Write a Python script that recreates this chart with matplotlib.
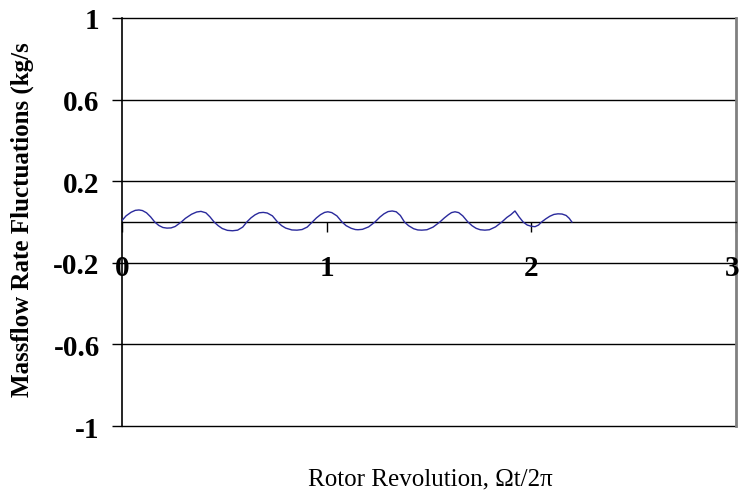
import matplotlib
matplotlib.use('Agg')
import matplotlib.pyplot as plt

# rotor revolution (Omega t / 2 pi) and massflow fluctuation (kg/s)
revolution = [0.00, 0.02, 0.045, 0.065, 0.083, 0.10, 0.12, 0.14, 0.16, 0.18, 0.20, 0.22,
              0.24, 0.26, 0.29, 0.31, 0.34, 0.365, 0.386, 0.41, 0.43, 0.45, 0.47, 0.49,
              0.515, 0.54, 0.565, 0.59, 0.61, 0.63, 0.65, 0.67, 0.69, 0.71, 0.735, 0.76,
              0.78, 0.80, 0.83, 0.855, 0.88, 0.905, 0.93, 0.95, 0.97, 0.99, 1.006, 1.025,
              1.05, 1.075, 1.095, 1.12, 1.14, 1.153, 1.175, 1.205, 1.236, 1.26, 1.28, 1.30,
              1.32, 1.34, 1.36, 1.38, 1.40, 1.425, 1.445, 1.465, 1.49, 1.52, 1.553, 1.575,
              1.595, 1.61, 1.627, 1.645, 1.665, 1.69, 1.71, 1.73, 1.75, 1.773, 1.795, 1.825,
              1.856, 1.88, 1.90, 1.92, 1.94, 1.96, 1.98, 2.00, 2.018, 2.035, 2.05, 2.07,
              2.09, 2.11, 2.13, 2.15, 2.17, 2.185, 2.198]
fluctuation = [0.007, 0.030, 0.048, 0.057, 0.059, 0.056, 0.045, 0.025, 0.0, -0.017, -0.027, -0.030,
               -0.029, -0.022, 0.0, 0.018, 0.038, 0.049, 0.052, 0.045, 0.025, 0.0, -0.018, -0.032,
               -0.041, -0.043, -0.040, -0.025, 0.0, 0.020, 0.035, 0.045, 0.047, 0.044, 0.030, 0.0,
               -0.018, -0.030, -0.039, -0.040, -0.037, -0.025, 0.0, 0.020, 0.036, 0.047, 0.050, 0.046,
               0.030, 0.0, -0.018, -0.031, -0.037, -0.038, -0.036, -0.024, 0.0, 0.024, 0.040, 0.051,
               0.054, 0.050, 0.032, 0.0, -0.018, -0.033, -0.039, -0.040, -0.038, -0.025, 0.0, 0.020,
               0.036, 0.046, 0.050, 0.046, 0.030, 0.0, -0.018, -0.031, -0.038, -0.040, -0.038, -0.024,
               0.0, 0.022, 0.036, 0.054, 0.025, 0.0, -0.015, -0.021, -0.023, -0.015, 0.0, 0.015,
               0.028, 0.037, 0.040, 0.039, 0.032, 0.018, 0.0]

x_ticks = [0, 1, 2, 3]
x_tick_labels = ['0', '1', '2', '3']
y_ticks = [-1, -0.6, -0.2, 0.2, 0.6, 1]
y_tick_labels = ['-1', '-0.6', '-0.2', '0.2', '0.6', '1']

plt.rcParams['font.family'] = ['Liberation Serif', 'DejaVu Serif']
plt.rcParams['font.weight'] = 'bold'   # Excel-style bold tick labels

fig = plt.figure(figsize=(7.41, 5.02), dpi=100)
ax = fig.add_axes([0.1646, 0.1494, 0.8287, 0.8128])

ax.plot(revolution, fluctuation, color='#2a2a9c', linewidth=1.0, zorder=3)

ax.set_xlim(0, 3)
ax.set_ylim(-1, 1)

ax.set_yticks(y_ticks)
ax.set_yticklabels(y_tick_labels)
ax.set_xticks(x_ticks)
# the last label sits on the figure edge; it is drawn separately below
ax.set_xticklabels(x_tick_labels[:-1] + [''])

ax.tick_params(axis='y', direction='out', length=7, width=1, pad=9,
               labelsize=21, color='black')
ax.tick_params(axis='x', direction='out', length=7, width=1, pad=16,
               labelsize=21, color='black')

ax.annotate(x_tick_labels[-1], xy=(x_ticks[-1], 0), xycoords='data',
            xytext=(-3, -23), textcoords='offset points',
            ha='center', va='top', fontsize=21, fontweight='bold',
            annotation_clip=False)

# horizontal gridlines; keep the ones at +/-1 whole on the frame edge
ax.grid(axis='y', color='black', linewidth=1.0)
ax.grid(axis='x', visible=False)
for gl in ax.get_ygridlines():
    gl.set_clip_on(False)

ax.spines['bottom'].set_position(('data', 0))
ax.spines['bottom'].set_linewidth(1.0)
ax.spines['left'].set_linewidth(1.2)
ax.spines['top'].set_visible(False)
ax.spines['right'].set_color('#808080')
ax.spines['right'].set_linewidth(2.0)

fig.text(0.030, 0.562, 'Massflow Rate Fluctuations (kg/s', rotation=90,
         ha='center', va='center', fontsize=18, fontweight='bold')
fig.text(0.581, 0.044, 'Rotor Revolution, \u03a9t/2\u03c0', ha='center', va='center',
         fontsize=18, fontweight='normal')

fig.savefig('out.png', dpi=100)
